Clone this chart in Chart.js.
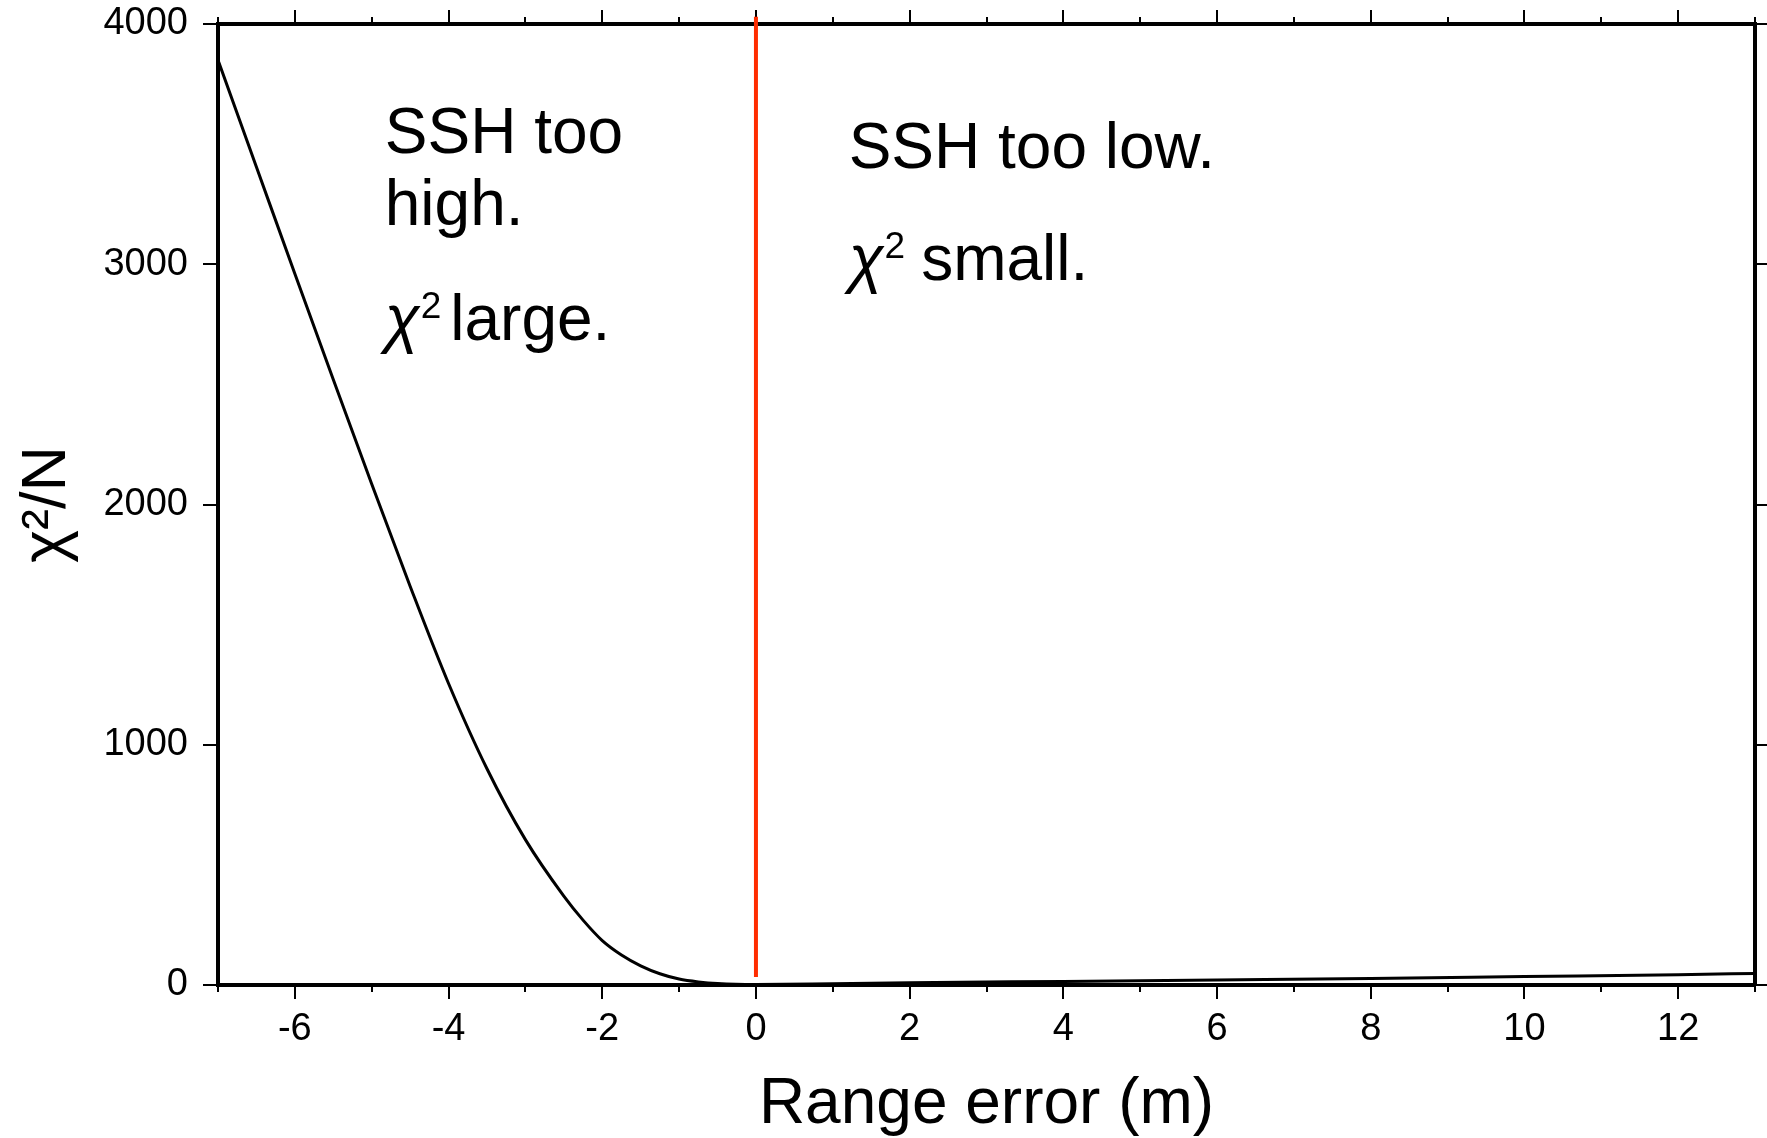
<!DOCTYPE html>
<html><head><meta charset="utf-8">
<script src="https://cdn.jsdelivr.net/npm/chart.js@4.4.1/dist/chart.umd.min.js"></script>
<style>html,body{margin:0;padding:0;background:#fff}#wrap{width:1767px;height:1138px;position:relative}</style>
</head><body><div id="wrap"><canvas id="c"></canvas></div>
<script>
// ---- data ----
const rangeError     = [-7, -6.5, -6, -5.5, -5, -4.5, -4, -3.5, -3, -2.5, -2.25, -2, -1.75, -1.5, -1.25, -1, -0.75, -0.5, 0, 1, 2, 4, 6, 8, 10, 12, 13];
const chiSquaredPerN = [3850, 3405, 2960, 2520, 2085, 1660, 1255, 900, 605, 370, 270, 185, 125, 80, 47, 25, 13, 6, 2, 5, 9, 15, 21, 27, 35, 43, 48];
const zeroLineX = [0, 0];
const zeroLineY = [33, 4030];
const xMajorTicks = [-6, -4, -2, 0, 2, 4, 6, 8, 10, 12];
const yTicks = [0, 1000, 2000, 3000, 4000];
const xTitle = 'Range error (m)';
const yTitle = 'χ²/N';
const leftNoteLines = ['SSH too', 'high.'];
const leftNoteChi = 'large.';
const rightNoteLines = ['SSH too low.'];
const rightNoteChi = 'small.';

const FAM = '"Liberation Sans", Arial, Helvetica, sans-serif';
Chart.defaults.font.family = FAM;
Chart.defaults.color = '#000';

function drawChiLine(ctx, px, py, word, gap) {
  ctx.font = 'italic 64px ' + FAM;
  ctx.fillText('χ', px, py);
  let w = ctx.measureText('χ').width;
  ctx.font = '37px ' + FAM;
  ctx.fillText('2', px + w + 1, py - 22);
  let w2 = ctx.measureText('2').width;
  ctx.font = '64px ' + FAM;
  ctx.fillText(word, px + w + 1 + w2 + gap, py);
}

const notesPlugin = {
  id: 'notes',
  afterDatasetsDraw(chart) {
    const {ctx, scales} = chart;
    const x = scales.x, y = scales.y;
    ctx.save();
    ctx.fillStyle = '#000';
    ctx.textAlign = 'left';
    ctx.textBaseline = 'alphabetic';
    ctx.font = '64px ' + FAM;
    const lx = x.getPixelForValue(-4.83);
    ctx.fillText(leftNoteLines[0], lx, y.getPixelForValue(3463));
    ctx.fillText(leftNoteLines[1], lx, y.getPixelForValue(3162));
    drawChiLine(ctx, lx, y.getPixelForValue(2683), leftNoteChi, 9);
    const rx = x.getPixelForValue(1.206);
    ctx.font = '64px ' + FAM;
    ctx.fillText(rightNoteLines[0], rx, y.getPixelForValue(3401));
    drawChiLine(ctx, rx, y.getPixelForValue(2936), rightNoteChi, 16);
    ctx.restore();
  }
};

const setX = s => { s.ticks = xMajorTicks.map(v => ({value: v})); };
const setY = s => { s.ticks = yTicks.map(v => ({value: v})); };
const gridMajor = len => ({display: true, drawOnChartArea: false, drawTicks: true, tickLength: len, color: '#000', lineWidth: 2});
const plain = v => String(v);
const fitTo = (dim, size) => s => {
  s[dim] = size;
  s.paddingTop = 0; s.paddingBottom = 0; s.paddingLeft = 0; s.paddingRight = 0;
};

new Chart(document.getElementById('c'), {
  type: 'line',
  data: {
    datasets: [
      {
        data: rangeError.map((v, i) => ({x: v, y: chiSquaredPerN[i]})),
        borderColor: '#000', borderWidth: 3, pointRadius: 0, fill: false,
        cubicInterpolationMode: 'monotone', xAxisID: 'x', yAxisID: 'y'
      },
      {
        data: zeroLineX.map((v, i) => ({x: v, y: zeroLineY[i]})),
        borderColor: '#ff2d00', borderWidth: 4, pointRadius: 0, fill: false,
        clip: false, xAxisID: 'x', yAxisID: 'y'
      }
    ]
  },
  options: {
    responsive: true, maintainAspectRatio: false, animation: false,
    layout: {padding: 0, autoPadding: false},
    plugins: {legend: {display: false}, tooltip: {enabled: false}},
    scales: {
      x: {
        type: 'linear', position: 'bottom', weight: 1, min: -7, max: 13,
        afterBuildTicks: setX,
        ticks: {font: {size: 38}, color: '#000', padding: 8, maxRotation: 0, autoSkip: false, callback: plain},
        grid: gridMajor(14),
        border: {display: true, color: '#000', width: 4},
        title: {display: true, text: xTitle, color: '#000', font: {size: 64, lineHeight: 1}, padding: {top: 0, bottom: 1}},
        afterFit: fitTo('height', 153)
      },
      xMinor: {
        type: 'linear', position: 'bottom', weight: 0, min: -7, max: 13,
        ticks: {stepSize: 1, display: false},
        grid: gridMajor(7),
        border: {display: false},
        afterFit: fitTo('height', 0)
      },
      xTop: {
        type: 'linear', position: 'top', weight: 1, min: -7, max: 13,
        afterBuildTicks: setX,
        ticks: {display: false},
        grid: gridMajor(14),
        border: {display: true, color: '#000', width: 4},
        afterFit: fitTo('height', 24)
      },
      xTopMinor: {
        type: 'linear', position: 'top', weight: 0, min: -7, max: 13,
        ticks: {stepSize: 1, display: false},
        grid: gridMajor(7),
        border: {display: false},
        afterFit: fitTo('height', 0)
      },
      y: {
        type: 'linear', position: 'left', min: 0, max: 4000,
        afterBuildTicks: setY,
        ticks: {font: {size: 38}, color: '#000', padding: 15, callback: plain},
        grid: gridMajor(15),
        border: {display: true, color: '#000', width: 4},
        title: {display: true, text: yTitle, color: '#000', font: {size: 63, lineHeight: 1}, padding: {top: 16, bottom: 0}},
        afterFit: fitTo('width', 218)
      },
      yRight: {
        type: 'linear', position: 'right', min: 0, max: 4000,
        afterBuildTicks: setY,
        ticks: {display: false},
        grid: gridMajor(12),
        border: {display: true, color: '#000', width: 4},
        afterFit: fitTo('width', 12)
      }
    }
  },
  plugins: [notesPlugin]
});
</script>
</body></html>
